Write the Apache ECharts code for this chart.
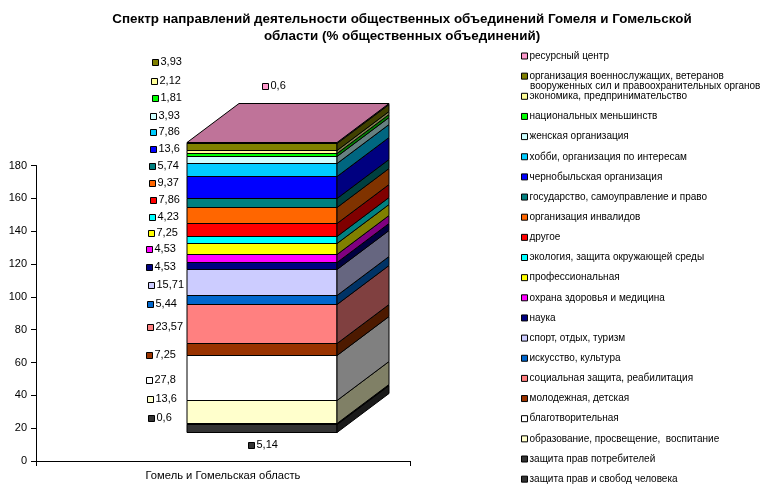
<!DOCTYPE html>
<html><head><meta charset="utf-8">
<style>html,body{margin:0;padding:0;background:#fff}#c{width:767px;height:502px}</style>
<script src="https://cdn.jsdelivr.net/npm/echarts@6/dist/echarts.min.js"></script>
</head><body><div id="c"></div>
<script>
// bottom-to-top stacking order
const categoryLabel = 'Гомель и Гомельская область';
const names = ['защита прав и свобод человека','защита прав потребителей','образование, просвещение,  воспитание','благотворительная','молодежная, детская','социальная защита, реабилитация','искусство, культура','спорт, отдых, туризм','наука','охрана здоровья и медицина','профессиональная','экология, защита окружающей среды','другое','организация инвалидов','государство, самоуправление и право','чернобыльская организация','хобби, организация по интересам','женская организация','национальных меньшинств','экономика, предпринимательство','организация военнослужащих, ветеранов','ресурсный центр'];
const values = [5.14,0.6,13.6,27.8,7.25,23.57,5.44,15.71,4.53,4.53,7.25,4.23,7.86,9.37,5.74,13.6,7.86,3.93,1.81,2.12,3.93,0.6];
const colors = ['#333333','#000000','#FFFFCC','#FFFFFF','#993300','#FF8080','#0066CC','#CCCCFF','#000080','#FF00FF','#FFFF00','#00FFFF','#FF0000','#FF6600','#008080','#0000FF','#00CCFF','#CCFFFF','#00FF00','#FFFF99','#808000','#FF99CC'];
const legendKeys = ['#333333','#333333','#FFFFCC','#FFFFFF','#993300','#FF8080','#0066CC','#CCCCFF','#000080','#FF00FF','#FFFF00','#00FFFF','#FF0000','#FF6600','#008080','#0000FF','#00CCFF','#CCFFFF','#00FF00','#FFFF99','#808000','#FF99CC'];
const yTicks = {min:0,max:180,interval:20};
// hand-placed data labels: centre of each label's key square
const labelAnchors = [[250.7,445],[150.7,418.3],[150,399.3],[149,380.3],[149.3,354.7],[150.3,326.7],[150,304.3],[151.3,285.3],[149.3,266.7],[149,249],[151.3,233],[151.7,216.7],[153.3,199.7],[152.3,183.3],[152.3,166.3],[153,148.7],[153.3,132.3],[153.3,115.7],[155,98.3],[154,81.3],[155,62.3],[265,86.3]];
const depthX = 52, depthY = 39, floorLift = 29, barLeftOffset = -36, barWidth = 150;

function shade(hex,f){
  const n=parseInt(hex.slice(1),16);
  const c=[n>>16&255,n>>8&255,n&255].map(v=>Math.round(v*f));
  return 'rgb('+c.join(',')+')';
}
const bases = values.map((_,i)=>values.slice(0,i).reduce((a,b)=>a+b,0));
const last = values.length-1;
const lineStyle = {stroke:'#000',lineWidth:1};

const series = values.map((v,i)=>({
  name:names[i],
  type:'custom',
  coordinateSystem:'cartesian2d',
  data:[[0,v]],
  itemStyle:{color:legendKeys[i],borderColor:'#000',borderWidth:1},
  z:2+i,
  renderItem:function(params,api){
    const bottom=api.coord([0,bases[i]]);
    const top=api.coord([0,bases[i]+api.value(1)]);
    const xl=Math.round(bottom[0]+barLeftOffset), xr=xl+barWidth;
    const y0=Math.round(bottom[1]-floorLift)+.5, y1=Math.round(top[1]-floorLift)+.5;
    const poly=(pts,fill)=>({type:'polygon',shape:{points:pts},style:Object.assign({fill:fill},lineStyle)});
    const kids=[
      poly([[xl,y0],[xr,y0],[xr,y1],[xl,y1]],colors[i]),
      poly([[xr,y0],[xr+depthX,y0-depthY],[xr+depthX,y1-depthY],[xr,y1]],shade(colors[i],.5))
    ];
    if(i===last) kids.push(poly([[xl,y1],[xr,y1],[xr+depthX,y1-depthY],[xl+depthX,y1-depthY]],shade(colors[i],.75)));
    const a=labelAnchors[i];
    kids.push({type:'rect',shape:{x:Math.round(a[0])-2.5,y:Math.round(a[1])-2.5,width:6,height:6},style:{fill:legendKeys[i],stroke:'#000',lineWidth:1}});
    kids.push({type:'text',style:{text:String(v).replace('.',','),x:Math.round(a[0])+5.5,y:a[1],fill:'#000',font:'11px "Liberation Sans"',verticalAlign:'middle',textAlign:'left'}});
    return {type:'group',children:kids};
  }
}));

const chart=echarts.init(document.getElementById('c'),null,{renderer:'canvas'});
chart.setOption({
  animation:false,
  backgroundColor:'#fff',
  title:{
    text:'Спектр направлений деятельности общественных объединений Гомеля и Гомельской\nобласти (% общественных объединений)',
    left:397,top:6,textAlign:'center',
    textStyle:{fontFamily:'Liberation Sans',fontSize:13.4,fontWeight:'bold',color:'#000',lineHeight:17}
  },
  legend:{
    orient:'vertical',left:516,top:45,itemWidth:6,itemHeight:6,itemGap:8.15,icon:'rect',
    data:names.slice().reverse(),selectedMode:false,
    itemStyle:{borderColor:'#000',borderWidth:1},
    textStyle:{fontFamily:'Liberation Sans',fontSize:10,color:'#000',lineHeight:12,padding:[0,0,0,-3]}
  },
  grid:{left:36,width:374,top:165.5,height:295.5},
  xAxis:{type:'category',data:[categoryLabel],
    axisLine:{lineStyle:{color:'#000'}},axisTick:{show:true,alignWithLabel:false,length:5,lineStyle:{color:'#000'}},
    axisLabel:{color:'#000',fontFamily:'Liberation Sans',fontSize:11.2,margin:9}},
  yAxis:{type:'value',min:yTicks.min,max:yTicks.max,interval:yTicks.interval,
    axisLine:{show:true,lineStyle:{color:'#000'}},axisTick:{show:true,length:5,lineStyle:{color:'#000'}},
    splitLine:{show:false},
    axisLabel:{color:'#000',fontFamily:'Liberation Sans',fontSize:11,margin:9}},
  graphic:[{type:'text',left:530,top:81,style:{text:'вооруженных сил и правоохранительных органов',fill:'#000',font:'10px "Liberation Sans"'}}],
  series:series
});
</script></body></html>
